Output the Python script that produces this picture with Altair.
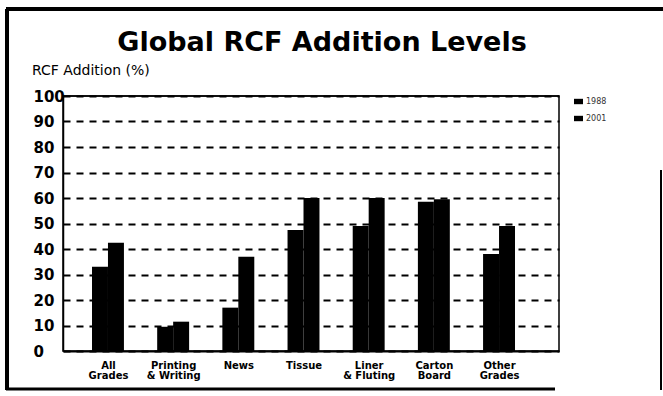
import altair as alt
import pandas as pd

# ---------------- data ----------------
categories = ["All Grades", "Printing & Writing", "News", "Tissue",
              "Liner & Fluting", "Carton Board", "Other Grades"]
label_lines = [["All", "Grades"], ["Printing", "& Writing"], ["News"], ["Tissue"],
               ["Liner", "& Fluting"], ["Carton", "Board"], ["Other", "Grades"]]
years = ["1988", "2001"]
values_1988 = [33, 9.5, 17, 47.5, 49, 58.5, 38]
values_2001 = [42.5, 11.5, 37, 60, 60, 59.5, 49]
y_ticks = [0, 10, 20, 30, 40, 50, 60, 70, 80, 90, 100]
title_text = "Global RCF Addition Levels"
y_title_text = "RCF Addition (%)"

rows = []
for i, c in enumerate(categories):
    rows.append({"idx": i, "category": c, "year": years[0], "value": values_1988[i]})
    rows.append({"idx": i, "category": c, "year": years[1], "value": values_2001[i]})
df = pd.DataFrame(rows)

BW = 0.245
FONT = "DejaVu Sans"

label_expr = "[" + ",".join(
    "[" + ",".join("'" + s + "'" for s in lines) + "]" for lines in label_lines
) + "][datum.value]"

xscale = alt.Scale(domain=[-0.69, 6.92], nice=False, zero=False)
yscale = alt.Scale(domain=[0, 100], nice=False)

bars = alt.Chart(df).transform_calculate(
    x0=f"datum.idx + (datum.year == '{years[0]}' ? {-BW} : 0)",
    x1=f"datum.idx + (datum.year == '{years[0]}' ? 0 : {BW})",
).mark_bar().encode(
    x=alt.X("x0:Q", scale=xscale, axis=alt.Axis(
        values=list(range(len(categories))), labelExpr=label_expr, title=None,
        ticks=False, grid=False, domain=True, domainColor="black", domainWidth=2,
        labelFont=FONT, labelFontWeight="bold", labelFontSize=10, labelLineHeight=10,
        labelPadding=9, labelBaseline="top", labelColor="black", labelFlush=False,
        labelOverlap=False, labelBound=False)),
    x2="x1:Q",
    y=alt.Y("value:Q", scale=yscale, axis=alt.Axis(
        values=y_ticks, title=None, ticks=False, domain=True, domainColor="black",
        domainWidth=1.5, grid=True, gridColor="black", gridDash=[7, 6], gridWidth=2,
        labelAlign="left", labelPadding=30, labelFontSize=15, labelFont=FONT,
        labelFontWeight="bold", labelColor="black", labelBaseline="middle",
        labelFlush=False, labelOverlap=False)),
    y2=alt.datum(0),
    color=alt.Color("year:N", scale=alt.Scale(domain=years, range=["black", "black"]),
                    legend=alt.Legend(title=None, orient="none", legendX=511, legendY=1,
                                      symbolType="M-1,-0.6H1V0.6H-1Z", symbolSize=81,
                                      labelFontSize=8, labelFont=FONT, labelColor="#333",
                                      rowPadding=8, labelOffset=3, symbolStrokeWidth=0)),
)

one = pd.DataFrame({"a": [0]})

def hrule(x1, x2, y, w):
    return alt.Chart(one).mark_rule(color="black", strokeWidth=w).encode(
        x=alt.value(x1), x2=alt.value(x2), y=alt.value(y))

def vrule(x, y1, y2, w):
    return alt.Chart(one).mark_rule(color="black", strokeWidth=w).encode(
        x=alt.value(x), y=alt.value(y1), y2=alt.value(y2))

frame = [
    hrule(-57, 600, -87, 4),
    vrule(-56, -87, 294, 4),
    hrule(-57, 492, 293, 3),
    vrule(598, 74, 294, 2),
    hrule(0, 496, 0, 1.5),
]

title = alt.Chart(one).mark_text(font=FONT, fontWeight="bold", fontSize=27,
                                 align="center", baseline="middle", color="black").encode(
    x=alt.value(259), y=alt.value(-53), text=alt.value(title_text))

ytitle = alt.Chart(one).mark_text(font=FONT, fontSize=14, align="left",
                                  baseline="middle", color="black").encode(
    x=alt.value(-31), y=alt.value(-25), text=alt.value(y_title_text))

chart = alt.layer(*frame, bars, title, ytitle).properties(
    width=496, height=255,
    autosize=alt.AutoSizeParams(type="none"),
    padding={"left": 63, "top": 96, "right": 104, "bottom": 45},
    background="white",
).configure_view(stroke="black", strokeWidth=1.5)

chart.save("out.html", embed_options={"renderer": "svg", "actions": False})
